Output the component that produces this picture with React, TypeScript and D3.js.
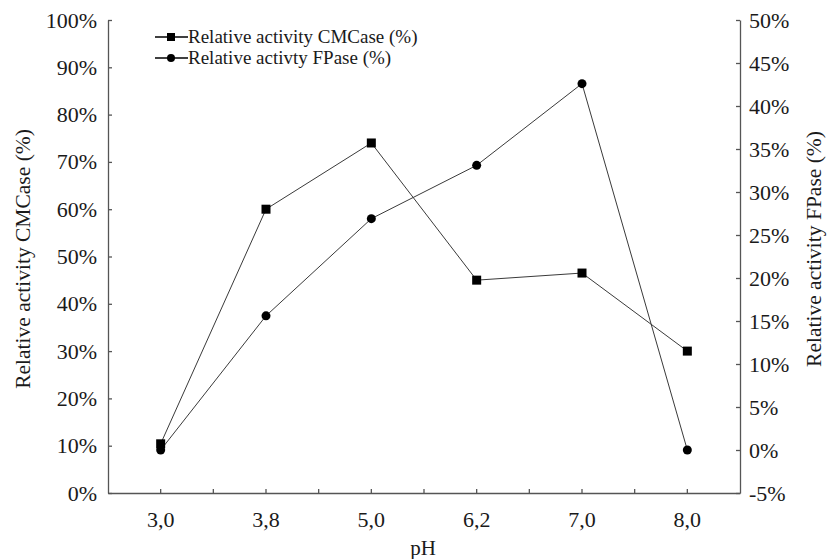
import React, { useEffect, useRef } from "react";
import * as d3 from "d3";

const PH_LABELS = ["3,0", "3,8", "5,0", "6,2", "7,0", "8,0"];
const CMCASE = [10.4, 60, 74, 45, 46.5, 30];
const FPASE = [0, 15.6, 26.9, 33.1, 42.6, 0];
const LEFT_TICKS = [0, 10, 20, 30, 40, 50, 60, 70, 80, 90, 100];
const RIGHT_TICKS = [-5, 0, 5, 10, 15, 20, 25, 30, 35, 40, 45, 50];

const WIDTH = 827;
const HEIGHT = 559;
const MARGIN = { top: 20, right: 87, bottom: 66, left: 108 };
const INNER_WIDTH = WIDTH - MARGIN.left - MARGIN.right;
const INNER_HEIGHT = HEIGHT - MARGIN.top - MARGIN.bottom;
const FONT = "'Liberation Serif', 'Times New Roman', serif";
const AXIS_COLOR = "#555";
const LINE_COLOR = "#3a3a3a";
const TEXT_COLOR = "#1a1a1a";

export default function App() {
  const ref = useRef<SVGSVGElement>(null);

  useEffect(() => {
    const root = d3.select(ref.current);
    root.selectAll("*").remove();
    const svg = root
      .append("g")
      .attr("transform", "translate(" + MARGIN.left + "," + MARGIN.top + ")");

    const x = d3.scaleBand().domain(PH_LABELS).range([0, INNER_WIDTH]);
    const yLeft = d3.scaleLinear().domain([0, 100]).range([INNER_HEIGHT, 0]);
    const yRight = d3.scaleLinear().domain([-5, 50]).range([INNER_HEIGHT, 0]);
    const cx = (i: number) => (x(PH_LABELS[i]) as number) + x.bandwidth() / 2;

    // left axis
    const left = svg
      .append("g")
      .call(
        d3
          .axisLeft(yLeft)
          .tickValues(LEFT_TICKS)
          .tickSize(-4)
          .tickSizeOuter(0)
          .tickPadding(11)
          .tickFormat((d) => d + "%")
      );
    // right axis
    const right = svg
      .append("g")
      .attr("transform", "translate(" + INNER_WIDTH + ",0)")
      .call(
        d3
          .axisRight(yRight)
          .tickValues(RIGHT_TICKS)
          .tickSize(-4)
          .tickSizeOuter(0)
          .tickPadding(9)
          .tickFormat((d) => d + "%")
      );
    // bottom axis: ticks at centers and band edges
    const bottom = svg
      .append("g")
      .attr("transform", "translate(0," + INNER_HEIGHT + ")")
      .call(d3.axisBottom(x).tickSize(-4).tickSizeOuter(0).tickPadding(18));
    const edges = d3.range(1, PH_LABELS.length).map((i) => i * x.step());
    bottom
      .selectAll(".edge")
      .data(edges)
      .enter()
      .append("line")
      .attr("x1", (d) => d)
      .attr("x2", (d) => d)
      .attr("y1", 0)
      .attr("y2", -4);

    [left, right, bottom].forEach((g) => {
      g.selectAll("path, line").attr("stroke", AXIS_COLOR).attr("stroke-width", 1.3);
      g.selectAll("text")
        .attr("font-family", FONT)
        .attr("font-size", "22px")
        .attr("fill", TEXT_COLOR);
    });

    // series lines
    const lineLeft = d3
      .line<number>()
      .x((d, i) => cx(i))
      .y((d) => yLeft(d));
    const lineRight = d3
      .line<number>()
      .x((d, i) => cx(i))
      .y((d) => yRight(d));

    svg
      .append("path")
      .attr("d", lineLeft(CMCASE))
      .attr("fill", "none")
      .attr("stroke", LINE_COLOR)
      .attr("stroke-width", 1);
    svg
      .append("path")
      .attr("d", lineRight(FPASE))
      .attr("fill", "none")
      .attr("stroke", LINE_COLOR)
      .attr("stroke-width", 1);

    svg
      .selectAll(".sq")
      .data(CMCASE)
      .enter()
      .append("rect")
      .attr("x", (d, i) => cx(i) - 4.5)
      .attr("y", (d) => yLeft(d) - 4.5)
      .attr("width", 9)
      .attr("height", 9)
      .attr("fill", "#000");
    svg
      .selectAll(".dot")
      .data(FPASE)
      .enter()
      .append("circle")
      .attr("cx", (d, i) => cx(i))
      .attr("cy", (d) => yRight(d))
      .attr("r", 4.5)
      .attr("fill", "#000");

    // legend
    const legend = root.append("g").attr("transform", "translate(155,37)");
    const items = [
      { label: "Relative activity CMCase (%)", shape: "square" },
      { label: "Relative activty FPase (%)", shape: "circle" },
    ];
    items.forEach((it, i) => {
      const g = legend.append("g").attr("transform", "translate(0," + i * 21 + ")");
      g.append("line")
        .attr("x1", 0)
        .attr("x2", 33)
        .attr("y1", 0)
        .attr("y2", 0)
        .attr("stroke", "#000")
        .attr("stroke-width", 1.3);
      if (it.shape === "square") {
        g.append("rect").attr("x", 12).attr("y", -4).attr("width", 8).attr("height", 8).attr("fill", "#000");
      } else {
        g.append("circle").attr("cx", 16).attr("cy", 0).attr("r", 4).attr("fill", "#000");
      }
      g.append("text")
        .attr("x", 33)
        .attr("y", 6)
        .attr("font-family", FONT)
        .attr("font-size", "19px")
        .attr("fill", TEXT_COLOR)
        .text(it.label);
    });

    // axis titles
    root
      .append("text")
      .attr("transform", "translate(30,259) rotate(-90)")
      .attr("text-anchor", "middle")
      .attr("font-family", FONT)
      .attr("font-size", "21.5px")
      .attr("fill", TEXT_COLOR)
      .text("Relative activity CMCase (%)");
    root
      .append("text")
      .attr("transform", "translate(821,249) rotate(-90)")
      .attr("text-anchor", "middle")
      .attr("font-family", FONT)
      .attr("font-size", "21.5px")
      .attr("fill", TEXT_COLOR)
      .text("Relative activity FPase (%)");
    root
      .append("text")
      .attr("x", 423)
      .attr("y", 555)
      .attr("text-anchor", "middle")
      .attr("font-family", FONT)
      .attr("font-size", "21px")
      .attr("fill", TEXT_COLOR)
      .text("pH");
  }, []);

  return (
    <svg
      ref={ref}
      width={WIDTH}
      height={HEIGHT}
      style={{ position: "absolute", left: 0, top: 0, background: "#fff" }}
    />
  );
}
